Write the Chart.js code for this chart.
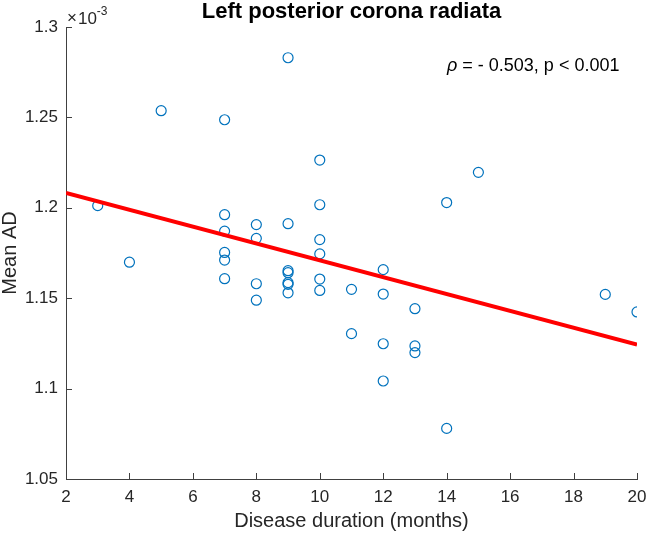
<!DOCTYPE html>
<html>
<head>
<meta charset="utf-8">
<script src="https://cdn.jsdelivr.net/npm/chart.js@4/dist/chart.umd.min.js"></script>
<style>
  html, body { margin: 0; padding: 0; background: #ffffff; }
  #c { display: block; }
</style>
</head>
<body>
<canvas id="c" width="646" height="533"></canvas>
<script>
// ---- Data (Mean AD in units of 1e-3) ----
const durationMonths = [3,4,5,7,7,7,7,7,7,8,8,8,8,9,9,9,9,9,9,9,10,10,10,10,10,10,11,11,12,12,12,12,13,13,13,14,14,15,19,20];
const meanAD = [1.2012,1.1699,1.2537,1.2487,1.1962,1.1871,1.1753,1.1711,1.1608,1.1907,1.1831,1.1580,1.1489,1.2830,1.1912,1.1652,1.1641,1.1586,1.1577,1.1530,1.2264,1.2017,1.1824,1.1745,1.1606,1.1543,1.1549,1.1304,1.1658,1.1523,1.1248,1.1042,1.1442,1.1236,1.1199,1.2029,1.0780,1.2196,1.1521,1.1424];
const fitX = [2, 20];
const fitY = [1.2082, 1.1243];
const xTickValues = [2,4,6,8,10,12,14,16,18,20];
const yTickValues = [1.05,1.1,1.15,1.2,1.25,1.3];
const yTickLabels = ["1.05","1.1","1.15","1.2","1.25","1.3"];
const titleText = "Left posterior corona radiata";
const xTitle = "Disease duration (months)";
const yTitle = "Mean AD";

const FONT = "'Liberation Sans', Arial, Helvetica, sans-serif";
const AXIS_COLOR = "#404040";

const scatterPts = durationMonths.map((x, i) => ({x: x, y: meanAD[i]}));
const fitPts = fitX.map((x, i) => ({x: x, y: fitY[i]}));

const decorPlugin = {
  id: 'decor',
  afterDraw(chart) {
    const ctx = chart.ctx;
    const area = chart.chartArea;
    const xs = chart.scales.x, ys = chart.scales.y;
    ctx.save();
    // inward tick marks
    ctx.strokeStyle = AXIS_COLOR;
    ctx.lineWidth = 1;
    const tl = 6;
    xTickValues.forEach(v => {
      const px = Math.round(xs.getPixelForValue(v)) + 0.5;
      ctx.beginPath();
      ctx.moveTo(px, area.bottom);
      ctx.lineTo(px, area.bottom - tl);
      ctx.stroke();
    });
    yTickValues.forEach(v => {
      const py = Math.round(ys.getPixelForValue(v)) + 0.5;
      ctx.beginPath();
      ctx.moveTo(area.left, py);
      ctx.lineTo(area.left + tl, py);
      ctx.stroke();
    });
    // title
    ctx.fillStyle = "#000000";
    ctx.textAlign = "center";
    ctx.textBaseline = "middle";
    ctx.font = "bold 22px " + FONT;
    ctx.fillText(titleText, (area.left + area.right) / 2, 12);
    // exponent multiplier
    ctx.fillStyle = "#262626";
    ctx.textAlign = "left";
    ctx.textBaseline = "alphabetic";
    ctx.font = "17px " + FONT;
    ctx.fillText("\u00D7", area.left + 1, 23);
    let mx = area.left + 1 + ctx.measureText("\u00D7").width + 1;
    ctx.fillText("10", mx, 24);
    mx += ctx.measureText("10").width;
    ctx.font = "12px " + FONT;
    ctx.fillText("-3", mx, 15);
    // annotation
    ctx.fillStyle = "#000000";
    ctx.font = "italic 18px " + FONT;
    let ax = 447;
    const ay = 71;
    ctx.fillText("\u03C1", ax, ay);
    ax += ctx.measureText("\u03C1").width;
    ctx.font = "18px " + FONT;
    ctx.fillText(" = - 0.503, p < 0.001", ax, ay);
    ctx.restore();
  }
};

new Chart(document.getElementById('c'), {
  type: 'scatter',
  data: {
    datasets: [
      {
        label: 'data',
        data: scatterPts,
        pointStyle: 'circle',
        pointRadius: 5,
        pointHoverRadius: 5,
        pointBorderWidth: 1.2,
        borderColor: '#0072BD',
        backgroundColor: 'rgba(0,0,0,0)',
        order: 2
      },
      {
        label: 'fit',
        type: 'line',
        data: fitPts,
        borderColor: '#FF0000',
        borderWidth: 4,
        pointRadius: 0,
        fill: false,
        order: 1
      }
    ]
  },
  options: {
    responsive: false,
    animation: false,
    devicePixelRatio: 1,
    layout: { padding: { top: 27, right: 9, left: 0, bottom: 0 } },
    plugins: {
      legend: { display: false },
      title: { display: false },
      tooltip: { enabled: false }
    },
    scales: {
      x: {
        type: 'linear',
        min: 2, max: 20,
        afterBuildTicks: s => { s.ticks = xTickValues.map(v => ({value: v})); },
        afterFit: s => { s.height = 54; s.paddingLeft = 0; s.paddingRight = 0; },
        grid: { display: false, drawTicks: false },
        border: { display: true, color: AXIS_COLOR, width: 1 },
        ticks: {
          color: '#262626',
          font: { family: FONT, size: 17 },
          padding: 8,
          maxRotation: 0,
          callback: v => String(v)
        },
        title: {
          display: true,
          text: xTitle,
          color: '#262626',
          font: { family: FONT, size: 20 },
          padding: { top: 0, bottom: 0 }
        }
      },
      y: {
        type: 'linear',
        min: 1.05, max: 1.3,
        afterBuildTicks: s => { s.ticks = yTickValues.map(v => ({value: v})); },
        afterFit: s => { s.width = 66; s.paddingTop = 0; s.paddingBottom = 0; },
        grid: { display: false, drawTicks: false },
        border: { display: true, color: AXIS_COLOR, width: 1 },
        ticks: {
          color: '#262626',
          font: { family: FONT, size: 17 },
          padding: 8,
          callback: (v) => {
            const i = yTickValues.findIndex(t => Math.abs(t - v) < 1e-9);
            return i >= 0 ? yTickLabels[i] : '';
          }
        },
        title: {
          display: true,
          text: yTitle,
          color: '#262626',
          font: { family: FONT, size: 20, lineHeight: 1.0 },
          padding: { top: 0, bottom: 0 }
        }
      }
    }
  },
  plugins: [decorPlugin]
});
</script>
</body>
</html>
